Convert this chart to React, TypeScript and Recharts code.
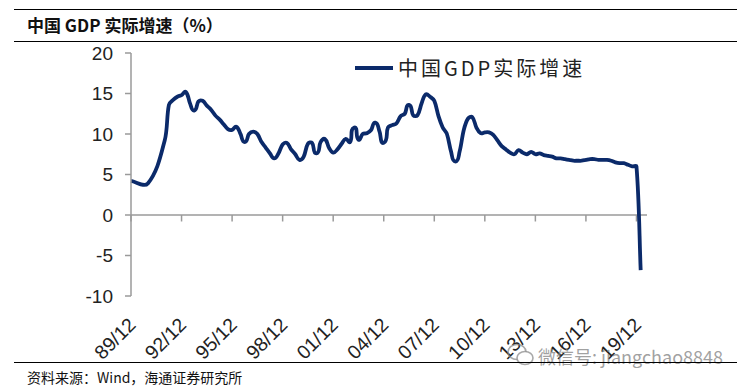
import { LineChart, Line, XAxis, YAxis, ReferenceLine } from "recharts";

// 89-91 are annual figures, quarterly from 92/03
const annualPeriods = ["89/12", "90/12", "91/12"];
const annualGrowth = [4.2, 3.9, 9.2];

const quarterlyGrowth = [
  13.6, 14.2, 14.6, 14.8, 15.2, 13.8, 12.9, 14.0, 14.1, 13.5, 13.0, 12.3, 11.8, 11.2, 10.6, 10.5,
  10.9, 10.0, 9.0, 10.0, 10.3, 10.0, 9.0, 8.3, 7.6, 7.0, 7.6, 8.7, 8.9, 8.1, 7.5, 6.8,
  7.2, 8.8, 8.9, 7.6, 9.0, 9.4, 8.3, 7.7, 8.1, 8.8, 9.4, 9.0, 10.8, 9.3, 10.0, 10.1,
  10.5, 11.4, 10.3, 8.9, 10.8, 11.1, 11.3, 12.2, 12.5, 13.6, 12.3, 12.3, 13.8, 14.9, 14.6, 14.1,
  12.2, 10.8, 10.0, 7.8, 6.6, 7.8, 10.5, 11.9, 12.1, 10.8, 10.1, 10.2, 10.2, 9.9, 9.2, 8.5,
  8.1, 7.7, 7.5, 8.0, 7.7, 7.5, 7.8, 7.5, 7.6, 7.4, 7.3, 7.2, 7.0, 7.0, 6.9, 6.8,
  6.7, 6.7, 6.7, 6.8, 6.9, 6.9, 6.8, 6.8, 6.8, 6.7, 6.5, 6.4, 6.4, 6.2, 6.0, 6.0,
  -6.8,
];

const xTickLabels = ["89/12", "92/12", "95/12", "98/12", "01/12", "04/12", "07/12", "10/12", "13/12", "16/12", "19/12"];
const yTicks = [-10, -5, 0, 5, 10, 15, 20];

const quarterlyPeriods: string[] = [];
for (let y = 1992; y <= 2020; y++) {
  for (const m of ["03", "06", "09", "12"]) {
    if (quarterlyPeriods.length < quarterlyGrowth.length) {
      quarterlyPeriods.push(String(y).slice(2) + "/" + m);
    }
  }
}

const periods = [...annualPeriods, ...quarterlyPeriods];
const growth = [...annualGrowth, ...quarterlyGrowth];

// quarter index counted from 89/12
const periodIndex = (p: string) => {
  const [yy, mm] = p.split("/").map(Number);
  const year = yy < 50 ? 2000 + yy : 1900 + yy;
  return (year - 1989) * 4 + mm / 3 - 4;
};

const data = periods.map((p, i) => ({ period: p, x: periodIndex(p), v: growth[i] }));
const xTicks = xTickLabels.map(periodIndex);

const NAVY = "#0b2a6a";
const AXIS = "#9a9a9a";
const SANS = "'Liberation Sans', Arial, sans-serif";
const CJK = "'Noto Sans CJK SC', 'Liberation Sans', sans-serif";

// excel-like smoothing: tangent from neighbours, handle length tied to the segment itself
function excelSmooth(context: any) {
  let pts: number[][] = [];
  const unit = (a: number[], b: number[]) => {
    const dx = b[0] - a[0];
    const dy = b[1] - a[1];
    const l = Math.hypot(dx, dy) || 1;
    return [dx / l, dy / l];
  };
  return {
    areaStart() {},
    areaEnd() {},
    lineStart() {
      pts = [];
    },
    point(x: number, y: number) {
      pts.push([+x, +y]);
    },
    lineEnd() {
      const n = pts.length;
      if (!n) return;
      context.moveTo(pts[0][0], pts[0][1]);
      for (let i = 0; i < n - 1; i++) {
        const p0 = pts[Math.max(i - 1, 0)];
        const p1 = pts[i];
        const p2 = pts[i + 1];
        const p3 = pts[Math.min(i + 2, n - 1)];
        const len = Math.hypot(p2[0] - p1[0], p2[1] - p1[1]) * 0.33;
        const t1 = unit(p0, p2);
        const t2 = unit(p1, p3);
        context.bezierCurveTo(
          p1[0] + t1[0] * len,
          p1[1] + t1[1] * len,
          p2[0] - t2[0] * len,
          p2[1] - t2[1] * len,
          p2[0],
          p2[1]
        );
      }
    },
  };
}

const XTick = (props: any) => {
  const { x, y, payload } = props;
  const label = xTickLabels[xTicks.indexOf(payload.value)];
  const ax = x + 6;
  const ay = y + 28;
  return (
    <text
      x={ax}
      y={ay}
      textAnchor="end"
      transform={`rotate(-45, ${ax}, ${ay})`}
      fontSize={19.5}
      fontFamily={SANS}
      fill="#222"
    >
      {label}
    </text>
  );
};

export default function App() {
  return (
    <div
      style={{
        position: "absolute",
        left: 0,
        top: 0,
        width: 746,
        height: 388,
        background: "#fff",
        overflow: "hidden",
      }}
    >
      <div style={{ position: "absolute", left: 14, top: 9, width: 723, height: 0, borderTop: "1.5px solid #000" }} />
      <div
        style={{
          position: "absolute",
          left: 27,
          top: 15,
          fontSize: 17,
          lineHeight: "20px",
          fontWeight: "bold",
          fontFamily: CJK,
          color: "#111",
          whiteSpace: "nowrap",
        }}
      >
        中国 GDP 实际增速（%）
      </div>
      <div style={{ position: "absolute", left: 14, top: 41, width: 723, height: 0, borderTop: "1.5px solid #000" }} />

      <LineChart
        width={746}
        height={388}
        data={data}
        margin={{ top: 53, right: 99, bottom: 32, left: 0 }}
        style={{ position: "absolute", left: 0, top: 0 }}
      >
        <XAxis
          dataKey="x"
          type="number"
          domain={[0, 122.5]}
          ticks={xTicks}
          interval={0}
          height={60}
          axisLine={false}
          tickLine={false}
          tickSize={0}
          tick={<XTick />}
        />
        <YAxis
          type="number"
          domain={[-10, 20]}
          ticks={yTicks}
          interval={0}
          width={131}
          axisLine={{ stroke: AXIS, strokeWidth: 1.5 }}
          tickLine={{ stroke: AXIS, strokeWidth: 1.5 }}
          tickSize={6}
          tickMargin={12}
          tick={{ fontSize: 19, fontFamily: SANS, fill: "#222" }}
        />
        <ReferenceLine y={0} stroke={AXIS} strokeWidth={1.5} />
        {xTicks.map((t) => (
          <ReferenceLine
            key={t}
            stroke={AXIS}
            strokeWidth={1.5}
            segment={[
              { x: t, y: 0 },
              { x: t, y: -0.8 },
            ]}
          />
        ))}
        <Line
          dataKey="v"
          type={excelSmooth as any}
          stroke={NAVY}
          strokeWidth={3.8}
          dot={false}
          isAnimationActive={false}
        />
      </LineChart>

      <div style={{ position: "absolute", left: 355, top: 56, display: "flex", alignItems: "center" }}>
        <div style={{ width: 38, height: 4, background: NAVY, marginRight: 5 }} />
        <span style={{ fontSize: 20, fontFamily: CJK, color: "#222", letterSpacing: 3, lineHeight: "24px" }}>
          中国GDP实际增速
        </span>
      </div>

      <svg
        width={30}
        height={26}
        style={{ position: "absolute", left: 506, top: 342 }}
        fill="none"
        stroke="rgba(140,140,140,0.75)"
        strokeWidth={1.6}
      >
        <ellipse cx={11} cy={10} rx={9} ry={7.5} />
        <ellipse cx={19} cy={16} rx={8} ry={6.5} fill="#fff" />
      </svg>
      <div
        style={{
          position: "absolute",
          left: 538,
          top: 343,
          fontSize: 18,
          fontFamily: CJK,
          color: "rgba(130,130,130,0.75)",
          whiteSpace: "nowrap",
        }}
      >
        微信号: jiangchao8848
      </div>

      <div style={{ position: "absolute", left: 14, top: 362, width: 723, height: 0, borderTop: "1.5px solid #000" }} />
      <div
        style={{
          position: "absolute",
          left: 27,
          top: 368,
          fontSize: 14,
          lineHeight: "18px",
          fontFamily: CJK,
          color: "#111",
          whiteSpace: "nowrap",
        }}
      >
        资料来源：Wind，海通证券研究所
      </div>
    </div>
  );
}
